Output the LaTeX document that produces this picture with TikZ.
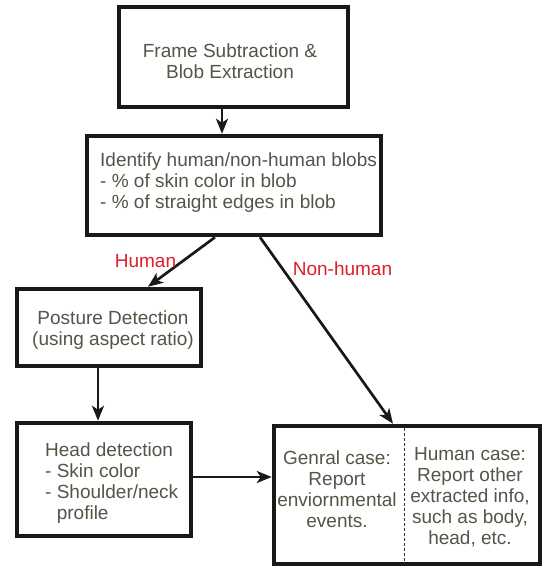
\documentclass[tikz,border=0pt]{standalone}
\usepackage{fontspec}
\setmainfont{Liberation Sans}
\usetikzlibrary{arrows.meta}
\definecolor{txt}{RGB}{88,83,72}
\definecolor{lab}{RGB}{222,32,42}
\begin{document}
\begin{tikzpicture}[x=1pt,y=-1pt,
  box/.style={draw=black!90, line width=4.5pt, inner sep=0pt},
  tx/.style={text=txt, font=\fontsize{19}{21}\selectfont, inner sep=0pt},
  arr/.style={draw=black!90, line width=2.7pt, -{Stealth[length=15pt,width=12pt,inset=4pt]}},
  lbl/.style={text=lab, font=\fontsize{19}{21}\selectfont, inner sep=0pt}]
\useasboundingbox[fill=white] (0,0) rectangle (544,568);
% boxes
\node[box, minimum width=229pt, minimum height=100pt] (b1) at (233.5,57) {};
\node[box, minimum width=294pt, minimum height=99pt] (b2) at (234,185.5) {};
\node[box, minimum width=184pt, minimum height=77pt] (post) at (109,327.5) {};
\node[box, minimum width=174pt, minimum height=113pt] (head) at (104,479.5) {};
\node[box, minimum width=266pt, minimum height=138pt] (res) at (407,495) {};
% texts
\node[tx, align=center] (t1) at (230,61) {Frame Subtraction \&\\Blob Extraction};
\node[tx, align=left, anchor=west] (t2) at (100,183) {Identify human/non-human blobs\\- \% of skin color in blob\\- \% of straight edges in blob};
\node[tx, align=center] (t3) at (113,330) {Posture Detection\\(using aspect ratio)};
\node[tx, align=left, anchor=west] (t4) at (45,483.5) {Head detection\\- Skin color\\- Shoulder/neck\\\hphantom{- }profile};
\node[tx, align=center] (t5) at (337,489) {Genral case:\\Report\\enviornmental\\events.};
\node[tx, align=center] (t6) at (470,497.5) {Human case:\\Report other\\extracted info,\\such as body,\\head, etc.};
% divider
\coordinate (dtop) at (404,428);
\coordinate (dbot) at (404,563);
\draw[black!80, line width=0.8pt, dash pattern=on 3pt off 2pt] (dtop) -- (dbot);
% connectors
\draw[arr] ([xshift=-11.5pt]b1.south) -- ([xshift=-12pt]b2.north);
\draw[arr] ([xshift=-19pt]b2.south) -- ([xshift=39pt]post.north);
\draw[arr] ([xshift=26pt]b2.south) -- ([xshift=-14pt]res.north);
\draw[arr] ([xshift=-11pt]post.south) -- ([xshift=-6pt]head.north);
\draw[arr] ([yshift=2.5pt]head.east) -- ([yshift=18pt]res.west);
% labels
\node[lbl] (lh) at (145.5,261) {Human};
\node[lbl] (ln) at (342.5,269) {Non-human};
\end{tikzpicture}
\end{document}
